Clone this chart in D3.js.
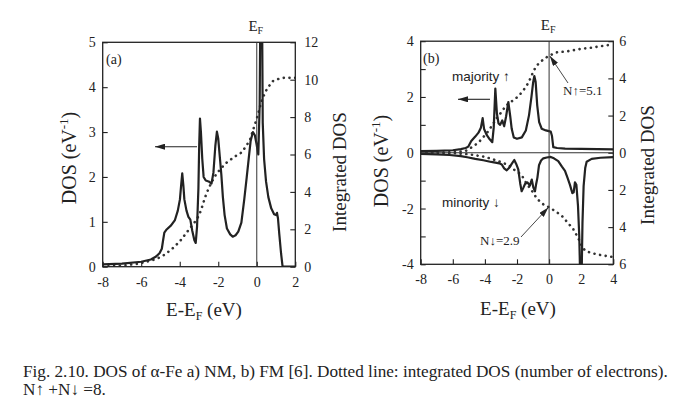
<!DOCTYPE html>
<html>
<head>
<meta charset="utf-8">
<script src="https://cdn.jsdelivr.net/npm/d3@7"></script>
<style>
  body { margin: 0; background: #fff; }
  svg { display: block; }
  text { font-family: "Liberation Serif", "Times New Roman", serif; fill: #222; }
  .sans { font-family: "Liberation Sans", Arial, sans-serif; }
</style>
</head>
<body>
<div class="chart"></div>
<script>
/* ---- data ---- */
// panel (a): non-magnetic DOS and its integral
const nmDos = [[-8,0.05],[-7,0.07],[-6,0.11],[-5.5,0.16],[-5.25,0.22],[-5.05,0.3],[-4.93,0.4],[-4.86,0.6],[-4.8,0.76],[-4.68,0.83],[-4.45,0.92],[-4.25,1.04],[-4.1,1.25],[-3.99,1.5],[-3.92,1.85],[-3.87,2.08],[-3.81,1.8],[-3.76,1.5],[-3.65,1.25],[-3.55,1.11],[-3.45,1.05],[-3.35,0.8],[-3.24,0.59],[-3.17,0.53],[-3.1,0.9],[-3.03,1.75],[-2.99,2.7],[-2.95,3.3],[-2.9,3.0],[-2.83,2.4],[-2.76,2.0],[-2.65,1.92],[-2.5,1.9],[-2.35,1.85],[-2.25,2.1],[-2.15,2.7],[-2.07,3.01],[-2.0,2.85],[-1.92,2.45],[-1.84,2.05],[-1.76,1.55],[-1.67,1.15],[-1.55,0.85],[-1.38,0.72],[-1.25,0.67],[-1.1,0.7],[-0.96,0.78],[-0.8,0.98],[-0.65,1.5],[-0.52,2.0],[-0.42,2.4],[-0.32,2.8],[-0.2,3.0],[-0.1,2.93],[-0.02,2.75],[0.08,2.5],[0.15,3.6],[0.19,6],[0.27,6],[0.31,3.2],[0.38,2.4],[0.48,1.9],[0.6,1.55],[0.75,1.3],[0.9,1.17],[1.0,1.15],[1.05,1.2],[1.1,1.08],[1.17,0.72],[1.26,0.3],[1.34,0],[2,0]];
const nmInt = [[-8,0],[-7,0.06],[-6.2,0.15],[-5.6,0.3],[-5.2,0.42],[-4.8,0.63],[-4.4,0.95],[-4,1.35],[-3.7,1.75],[-3.4,2.15],[-3.1,2.55],[-2.9,3.0],[-2.75,3.5],[-2.6,3.95],[-2.4,4.4],[-2.2,4.8],[-2.0,5.08],[-1.65,5.5],[-1.2,5.85],[-0.8,6.1],[-0.55,6.45],[-0.35,6.8],[-0.1,7.6],[0.08,8.2],[0.2,8.7],[0.34,9.1],[0.55,9.55],[0.86,9.95],[1.15,10.05],[1.4,10.1],[2,10.1]];

// panel (b): ferromagnetic, majority (up) and minority (down, negative)
const majDos = [[-8,0.06],[-7,0.07],[-6,0.09],[-5.5,0.13],[-5.2,0.17],[-5.03,0.22],[-4.85,0.42],[-4.6,0.58],[-4.4,0.72],[-4.25,0.9],[-4.14,1.24],[-4.05,0.85],[-3.9,0.65],[-3.7,0.48],[-3.54,0.38],[-3.45,0.9],[-3.35,2.3],[-3.25,1.4],[-3.15,1.05],[-3.05,1.0],[-2.92,1.16],[-2.8,0.95],[-2.68,1.3],[-2.54,1.82],[-2.42,1.3],[-2.33,0.86],[-2.2,0.55],[-2.0,0.5],[-1.7,0.55],[-1.45,0.8],[-1.25,1.35],[-1.1,2.0],[-1.0,2.5],[-0.92,2.75],[-0.84,2.55],[-0.74,1.7],[-0.62,1.1],[-0.46,0.86],[-0.2,0.8],[0.1,0.76],[0.18,0.6],[0.26,0.2],[0.5,0.17],[1,0.15],[2,0.14],[3,0.13],[4,0.12]];
const majInt = [[-8,0],[-6,0.02],[-5.2,0.1],[-4.8,0.3],[-4.4,0.55],[-4.1,0.84],[-3.8,1.15],[-3.48,1.56],[-3.2,1.95],[-3.0,2.15],[-2.75,2.46],[-2.5,2.68],[-2.23,2.82],[-1.9,3.05],[-1.6,3.36],[-1.3,3.75],[-1.08,4.17],[-0.9,4.5],[-0.7,4.75],[-0.36,5.02],[0,5.22],[0.47,5.4],[1.1,5.45],[1.93,5.58],[2.55,5.64],[3.3,5.74],[3.9,5.82],[4,5.83]];
const minDos = [[-8,-0.04],[-7,-0.06],[-6.2,-0.08],[-5.5,-0.12],[-5.1,-0.16],[-4.6,-0.22],[-4.1,-0.27],[-3.6,-0.33],[-3.1,-0.38],[-2.95,-0.42],[-2.8,-0.56],[-2.64,-0.63],[-2.5,-0.55],[-2.33,-0.4],[-2.17,-0.26],[-2.05,-0.4],[-1.92,-0.6],[-1.8,-1.1],[-1.71,-1.38],[-1.6,-1.25],[-1.5,-1.12],[-1.35,-1.06],[-1.2,-1.18],[-1.08,-0.96],[-0.98,-1.25],[-0.88,-1.38],[-0.8,-1.1],[-0.73,-0.9],[-0.63,-0.45],[-0.5,-0.28],[-0.36,-0.2],[-0.15,-0.17],[0.1,-0.15],[0.3,-0.2],[0.57,-0.3],[0.8,-0.5],[0.99,-0.65],[1.15,-0.9],[1.3,-1.15],[1.45,-1.45],[1.53,-1.42],[1.61,-1.06],[1.7,-1.15],[1.8,-1.9],[1.88,-3.0],[1.93,-4.3],[2.03,-4.3],[2.08,-2.5],[2.15,-1.2],[2.25,-0.55],[2.34,-0.32],[2.65,-0.22],[3.2,-0.18],[4,-0.16]];
const minInt = [[-8,0],[-6,0.02],[-5,0.08],[-4,0.22],[-3.5,0.35],[-3,0.5],[-2.5,0.68],[-2.2,0.9],[-2,1.0],[-1.7,1.22],[-1.4,1.67],[-1.08,2.03],[-0.77,2.45],[-0.46,2.72],[-0.2,2.86],[0,2.93],[0.4,3.15],[0.8,3.4],[1.1,3.7],[1.5,4.1],[1.82,4.6],[2.0,4.95],[2.24,5.27],[2.6,5.38],[2.96,5.46],[3.4,5.53],[3.9,5.6],[4,5.61]];

// tick values
const xTicksA = [-8, -6, -4, -2, 0, 2];
const yTicksA = [0, 1, 2, 3, 4, 5];
const rTicksA = [0, 2, 4, 6, 8, 10, 12];
const xTicksB = [-8, -6, -4, -2, 0, 2, 4];
const yTicksB = [-4, -3, -2, -1, 0, 1, 2, 3, 4];
const rTicksB = [-6, -4, -2, 0, 2, 4, 6];

const captionLines = [
    "Fig. 2.10. DOS of \u03b1-Fe a) NM, b) FM [6]. Dotted line: integrated DOS (number of electrons).",
    "N\u2191 +N\u2193 =8."
];

/* ---- svg ---- */
const svg = d3.select(".chart").append("svg")
    .attr("width", 696)
    .attr("height", 418);

const defs = svg.append("defs");
defs.append("marker")
    .attr("id", "head")
    .attr("viewBox", "0 0 10 6")
    .attr("refX", 10).attr("refY", 3)
    .attr("markerWidth", 10).attr("markerHeight", 6)
    .attr("markerUnits", "userSpaceOnUse")
    .attr("orient", "auto")
    .append("path")
    .attr("d", "M0,0 L10,3 L0,6 Z")
    .attr("fill", "#222");

const solid = (g, line, data, w) => g.append("path").datum(data)
    .attr("d", line).attr("fill", "none").attr("stroke", "#222")
    .attr("stroke-width", w).attr("stroke-linejoin", "round");
const dotted = (g, line, data) => g.append("path").datum(data)
    .attr("d", line).attr("fill", "none").attr("stroke", "#333")
    .attr("stroke-width", 2.6).attr("stroke-linecap", "round")
    .attr("stroke-dasharray", "0.1 5.6");

/**
 * Draws one framed panel and returns its scales and groups
 */
function panel(id, box, xDom, yDom, rDom, xt, yt, rt, yFmt, rFmt, gapL, gapR) {
    const x = d3.scaleLinear().domain(xDom).range([box.l, box.r]);
    const y = d3.scaleLinear().domain(yDom).range([box.b, box.t]);
    const yr = d3.scaleLinear().domain(rDom).range([box.b, box.t]);

    defs.append("clipPath").attr("id", "clip-" + id)
        .append("rect")
        .attr("x", box.l).attr("y", box.t)
        .attr("width", box.r - box.l).attr("height", box.b - box.t);

    const g = svg.append("g");
    const axisStyle = sel => {
        sel.select(".domain").remove();
        sel.selectAll(".tick line").attr("stroke", "#222").attr("stroke-width", 1.1);
        sel.selectAll(".tick text").attr("font-size", 14).attr("fill", "#222");
    };

    g.append("g").attr("transform", `translate(0,${box.b})`)
        .call(d3.axisBottom(x).tickValues(xt).tickSize(-5).tickPadding(10).tickFormat(d => String(d)))
        .call(axisStyle);
    g.append("g").attr("transform", `translate(${box.l},0)`)
        .call(d3.axisLeft(y).tickValues(yt).tickSize(-5).tickPadding(gapL).tickFormat(yFmt))
        .call(axisStyle);
    g.append("g").attr("transform", `translate(${box.r},0)`)
        .call(d3.axisRight(yr).tickValues(rt).tickSize(-5).tickPadding(gapR).tickFormat(rFmt))
        .call(axisStyle);

    const plot = g.append("g").attr("clip-path", `url(#clip-${id})`);

    // frame
    g.append("rect")
        .attr("x", box.l).attr("y", box.t)
        .attr("width", box.r - box.l).attr("height", box.b - box.t)
        .attr("fill", "none").attr("stroke", "#222").attr("stroke-width", 1.3);

    // Fermi level
    g.append("line")
        .attr("x1", x(0)).attr("x2", x(0))
        .attr("y1", box.t).attr("y2", box.b)
        .attr("stroke", "#333").attr("stroke-width", 1);
    const ef = g.append("text")
        .attr("x", x(0) - 1).attr("y", box.t - 11)
        .attr("text-anchor", "middle").attr("font-size", 15);
    ef.append("tspan").text("E");
    ef.append("tspan").attr("font-size", 10).attr("dy", 3).text("F");

    return { x, y, yr, g, plot };
}

/* ---- panel (a) ---- */
const boxA = { l: 102.7, r: 295.3, t: 42.3, b: 266.7 };
const pa = panel("a", boxA, [-8, 2], [0, 5], [0, 12], xTicksA, yTicksA, rTicksA,
    d => String(d), d => String(d), 7, 9);

const lineA = d3.line().x(d => pa.x(d[0])).y(d => pa.y(d[1]));
const lineAi = d3.line().x(d => pa.x(d[0])).y(d => pa.yr(d[1]));
dotted(pa.plot, lineAi, nmInt);
solid(pa.plot, lineA, nmDos, 2.2);

pa.g.append("text").attr("x", 106).attr("y", 64).attr("font-size", 14).text("(a)");
pa.g.append("line")
    .attr("x1", 197).attr("y1", 146.7).attr("x2", 155).attr("y2", 146.7)
    .attr("stroke", "#222").attr("stroke-width", 1.1).attr("marker-end", "url(#head)");

/* ---- panel (b) ---- */
const boxB = { l: 420.7, r: 613.3, t: 41.2, b: 264.3 };
const pb = panel("b", boxB, [-8, 4], [-4, 4], [-6, 6], xTicksB, yTicksB, rTicksB,
    d => (d % 2 === 0 ? String(d) : ""), d => String(Math.abs(d)), 7, 6);

const lineB = d3.line().x(d => pb.x(d[0])).y(d => pb.y(d[1]));
const lineBi = d3.line().x(d => pb.x(d[0])).y(d => pb.yr(d[1]));
const lineBm = d3.line().x(d => pb.x(d[0])).y(d => pb.yr(-d[1]));

pb.g.append("line")
    .attr("x1", boxB.l).attr("x2", boxB.r)
    .attr("y1", pb.y(0)).attr("y2", pb.y(0))
    .attr("stroke", "#333").attr("stroke-width", 1.1);

dotted(pb.plot, lineBi, majInt);
dotted(pb.plot, lineBm, minInt);
solid(pb.plot, lineB, majDos, 2.2);
solid(pb.plot, lineB, minDos, 2.2);

pb.g.append("text").attr("x", 423).attr("y", 63).attr("font-size", 14).text("(b)");
pb.g.append("text").attr("class", "sans").attr("x", 452).attr("y", 81)
    .attr("font-size", 13.5).attr("fill", "#333").text("majority \u2191");
pb.g.append("text").attr("class", "sans").attr("x", 442).attr("y", 207)
    .attr("font-size", 13.5).attr("fill", "#333").text("minority \u2193");
pb.g.append("line")
    .attr("x1", 490).attr("y1", 99.3).attr("x2", 458).attr("y2", 99.3)
    .attr("stroke", "#222").attr("stroke-width", 1.1).attr("marker-end", "url(#head)");

pb.g.append("text").attr("x", 563).attr("y", 95).attr("font-size", 13).attr("fill", "#333").text("N\u2191=5.1");
pb.g.append("line")
    .attr("x1", 568).attr("y1", 83).attr("x2", pb.x(0.05)).attr("y2", pb.yr(5.2))
    .attr("stroke", "#333").attr("stroke-width", 0.9).attr("marker-end", "url(#head)");
pb.g.append("text").attr("x", 480).attr("y", 245).attr("font-size", 13).attr("fill", "#333").text("N\u2193=2.9");
pb.g.append("line")
    .attr("x1", 521).attr("y1", 237).attr("x2", pb.x(-0.05)).attr("y2", pb.yr(-2.95))
    .attr("stroke", "#333").attr("stroke-width", 0.9).attr("marker-end", "url(#head)");

/* ---- axis titles ---- */
function dosLabel(cx, cy) {
    const t = svg.append("text")
        .attr("transform", `translate(${cx},${cy}) rotate(-90)`)
        .attr("text-anchor", "middle").attr("font-size", 20);
    t.append("tspan").text("DOS (eV");
    t.append("tspan").attr("font-size", 13).attr("dy", -8).text("-1");
    t.append("tspan").attr("dy", 8).text(")");
}
function intLabel(cx, cy) {
    svg.append("text")
        .attr("transform", `translate(${cx},${cy}) rotate(-90)`)
        .attr("text-anchor", "middle").attr("font-size", 19)
        .text("Integrated DOS");
}
function energyLabel(cx, by) {
    const t = svg.append("text").attr("x", cx).attr("y", by)
        .attr("text-anchor", "middle").attr("font-size", 19);
    t.append("tspan").text("E-E");
    t.append("tspan").attr("font-size", 12).attr("dy", 4).text("F");
    t.append("tspan").attr("dy", -4).text(" (eV)");
}
dosLabel(76, 158);
intLabel(346, 172);
energyLabel(204, 316);
dosLabel(388, 161);
intLabel(654, 165);
energyLabel(518, 315);

/* ---- caption ---- */
svg.selectAll("text.caption")
    .data(captionLines)
    .enter()
    .append("text")
    .attr("class", "caption")
    .attr("x", 23)
    .attr("y", (d, i) => 377 + i * 18)
    .attr("font-size", 17.2)
    .text(d => d);
</script>
</body>
</html>
